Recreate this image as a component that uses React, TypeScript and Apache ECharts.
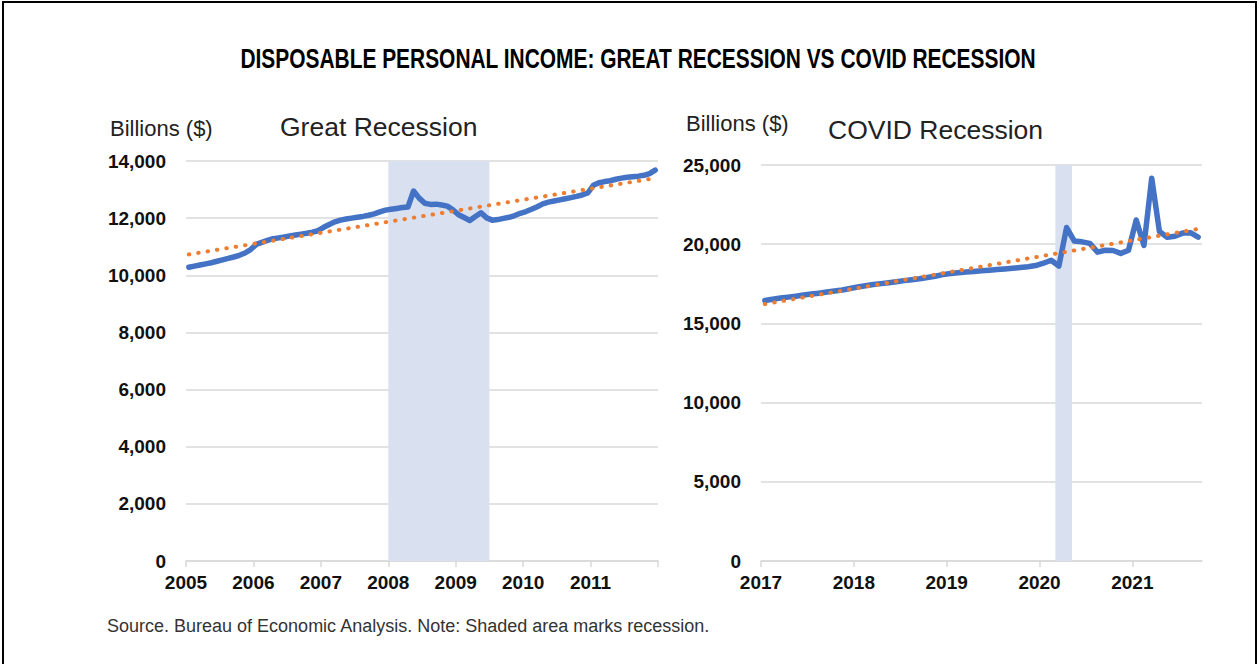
import React, { useEffect, useRef } from "react";
import * as echarts from "echarts";

// ---------- Great Recession panel (monthly, Jan 2005 - Dec 2011) ----------
const greatStartYear = 2005;
const greatValues = [
  // 2005
  10280, 10320, 10360, 10400, 10440, 10490, 10540, 10590, 10640, 10700, 10780, 10900,
  // 2006
  11080, 11150, 11220, 11280, 11310, 11340, 11380, 11410, 11440, 11470, 11510, 11560,
  // 2007
  11680, 11780, 11870, 11930, 11970, 12000, 12030, 12060, 12100, 12150, 12220, 12280,
  // 2008
  12310, 12340, 12370, 12390, 12950, 12700, 12520, 12480, 12490, 12460, 12420, 12290,
  // 2009
  12120, 12020, 11920, 12060, 12190, 12010, 11930, 11950, 11990, 12030, 12090, 12170,
  // 2010
  12230, 12310, 12400, 12500, 12560, 12600, 12640, 12680, 12720, 12760, 12810, 12880,
  // 2011
  13150, 13240, 13280, 13310, 13360, 13400, 13430, 13450, 13470, 13500, 13560, 13680,
];
const greatTrend = [10730, 13400];
const greatRecession = [2008.0, 2009.5];
const greatTickYears = [2005, 2006, 2007, 2008, 2009, 2010, 2011, 2012];
const greatLabelYears = [2005, 2006, 2007, 2008, 2009, 2010, 2011];
const greatYMax = 14000;
const greatYStep = 2000;

// ---------- COVID Recession panel (monthly, Jan 2017 - Sep 2021) ----------
const covidStartYear = 2017;
const covidValues = [
  // 2017
  16450, 16530, 16600, 16660, 16720, 16790, 16850, 16910, 16980, 17040, 17110, 17200,
  // 2018
  17300, 17380, 17450, 17510, 17570, 17630, 17700, 17760, 17820, 17900, 17980, 18080,
  // 2019
  18150, 18200, 18240, 18280, 18320, 18360, 18400, 18440, 18480, 18530, 18580, 18650,
  // 2020
  18800, 18990, 18620, 21050, 20200, 20150, 20050, 19500, 19620, 19600, 19420, 19620,
  // 2021
  21530, 19920, 24170, 20800, 20440, 20500, 20700, 20730, 20450,
];
const covidTrend = [16220, 20960];
const covidRecession = [2020.17, 2020.35];
const covidTickYears = [2017, 2018, 2019, 2020, 2021];
const covidLabelYears = [2017, 2018, 2019, 2020, 2021];
const covidXMax = 2021.75;
const covidYMax = 25000;
const covidYStep = 5000;

// ---------- Texts ----------
const mainTitle = "DISPOSABLE PERSONAL INCOME: GREAT RECESSION VS COVID RECESSION";
const unitLabel = "Billions ($)";
const greatTitle = "Great Recession";
const covidTitle = "COVID Recession";
const sourceNote = "Source. Bureau of Economic Analysis. Note: Shaded area marks recession.";

const toPoints = (start: number, vals: number[]) =>
  vals.map((v, i) => [start + (i + 0.5) / 12, v]);

const trendPoints = (start: number, vals: number[], trend: number[]) => [
  [start + 0.5 / 12, trend[0]],
  [start + (vals.length - 0.5) / 12, trend[1]],
];

const FAMILY = "'Liberation Sans', Arial, Helvetica, sans-serif";
const GRID_COLOR = "#d9d9d9";
const BLUE = "#4472C4";
const ORANGE = "#ED7D31";
const SHADE = "#d9e1f0";

function xAxisCfg(gridIndex: number, min: number, max: number, ticks: number[], labels: number[]) {
  return {
    type: "value",
    gridIndex,
    min,
    max,
    interval: 1,
    axisLine: { show: true, lineStyle: { color: GRID_COLOR, width: 1.5 } },
    axisTick: {
      show: true,
      length: 6,
      customValues: ticks,
      lineStyle: { color: GRID_COLOR, width: 1.5 },
    },
    axisLabel: {
      customValues: labels,
      formatter: (v: number) => String(v),
      fontFamily: FAMILY,
      fontWeight: "bold",
      fontSize: 19,
      color: "#111",
      margin: 12,
    },
    splitLine: { show: false },
  };
}

function yAxisCfg(gridIndex: number, max: number, step: number) {
  return {
    type: "value",
    gridIndex,
    min: 0,
    max,
    interval: step,
    axisLine: { show: false },
    axisTick: { show: false },
    axisLabel: {
      fontFamily: FAMILY,
      fontWeight: "bold",
      fontSize: 19,
      color: "#111",
      margin: 20,
    },
    splitLine: { show: true, lineStyle: { color: GRID_COLOR, width: 1.5 } },
  };
}

function panelSeries(idx: number, start: number, vals: number[], trend: number[], rec: number[]) {
  const pts = toPoints(start, vals);
  return [
    {
      type: "line",
      xAxisIndex: idx,
      yAxisIndex: idx,
      data: [pts[0], pts[pts.length - 1]],
      symbol: "none",
      lineStyle: { opacity: 0, width: 0 },
      silent: true,
      z: 1,
      markArea: {
        silent: true,
        itemStyle: { color: SHADE },
        data: [[{ xAxis: rec[0] }, { xAxis: rec[1] }]],
      },
    },
    {
      type: "line",
      xAxisIndex: idx,
      yAxisIndex: idx,
      data: pts,
      symbol: "none",
      lineStyle: { color: BLUE, width: 5.5, cap: "round", join: "round" },
      z: 3,
    },
    {
      type: "line",
      xAxisIndex: idx,
      yAxisIndex: idx,
      data: trendPoints(start, vals, trend),
      symbol: "none",
      lineStyle: { color: ORANGE, width: 4, type: [0.5, 9], cap: "round" },
      z: 4,
    },
  ];
}

function txt(text: string, x: number, y: number, size: number, opts: any = {}) {
  return {
    type: "text",
    x,
    y,
    scaleX: opts.scaleX ?? 1,
    silent: true,
    style: {
      text,
      fontFamily: opts.family ?? FAMILY,
      fontWeight: opts.weight ?? "normal",
      fontSize: size,
      fill: opts.color ?? "#222",
      textAlign: opts.align ?? "left",
      textVerticalAlign: "middle",
    },
  };
}

export default function App() {
  const ref = useRef<HTMLDivElement>(null);
  useEffect(() => {
    if (!ref.current) return;
    const chart = echarts.init(ref.current, undefined, { renderer: "svg" });
    chart.setOption({
      animation: false,
      backgroundColor: "#fff",
      graphic: [
        {
          type: "rect",
          shape: { x: 3, y: 2, width: 1253, height: 670 },
          style: { fill: "none", stroke: "#000", lineWidth: 2 },
          silent: true,
        },
        txt(mainTitle, 638, 58, 27, { weight: "bold", align: "center", color: "#000", scaleX: 0.775 }),
        txt(unitLabel, 110, 128, 22),
        txt(greatTitle, 280, 127, 26.5),
        txt(unitLabel, 686, 123, 22),
        txt(covidTitle, 828, 130, 26.5),
        txt(sourceNote, 107, 626, 18, { color: "#333" }),
      ],
      grid: [
        { left: 186, top: 161, width: 472, height: 400, containLabel: false },
        { left: 761, top: 165, width: 441, height: 396, containLabel: false },
      ],
      xAxis: [
        xAxisCfg(0, greatStartYear, greatStartYear + 7, greatTickYears, greatLabelYears),
        xAxisCfg(1, covidStartYear, covidXMax, covidTickYears, covidLabelYears),
      ],
      yAxis: [yAxisCfg(0, greatYMax, greatYStep), yAxisCfg(1, covidYMax, covidYStep)],
      series: [
        ...panelSeries(0, greatStartYear, greatValues, greatTrend, greatRecession),
        ...panelSeries(1, covidStartYear, covidValues, covidTrend, covidRecession),
      ],
    });
    return () => chart.dispose();
  }, []);
  return (
    <div
      ref={ref}
      style={{ position: "absolute", left: 0, top: 0, width: 1259, height: 664 }}
    />
  );
}
